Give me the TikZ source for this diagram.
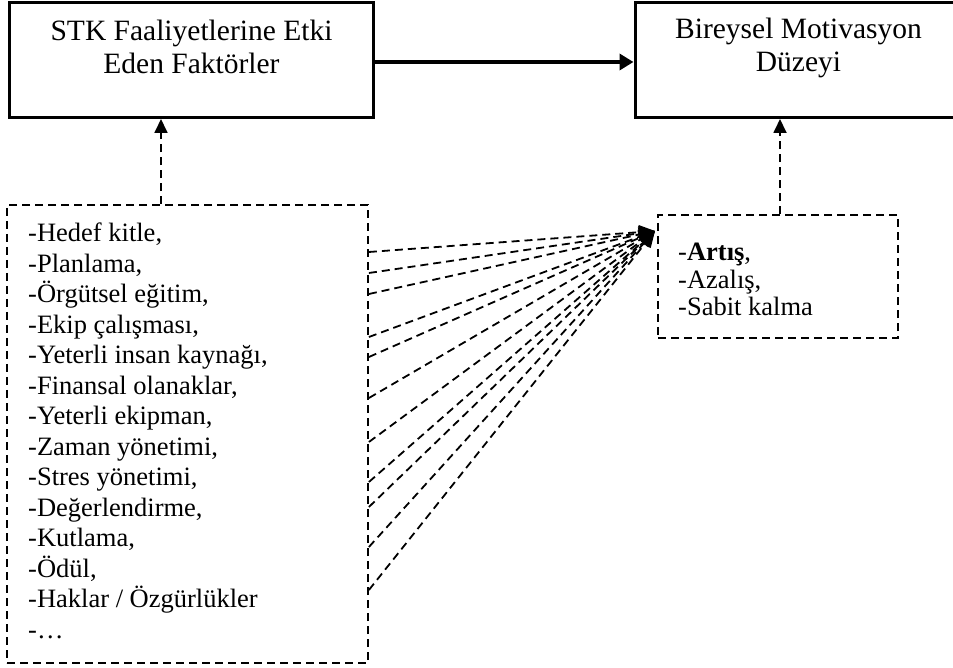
\documentclass[tikz,border=0pt]{standalone}
\usepackage{fontspec}
\setmainfont{Liberation Serif}
\usetikzlibrary{arrows.meta,positioning}

\tikzset{
  mainbox/.style={draw, rectangle, line width=3pt, inner sep=0pt},
  dashbox/.style={draw, rectangle, line width=1.8pt, dash pattern=on 8pt off 5pt, inner sep=0pt},
  toptext/.style={align=center, inner sep=0pt, font=\fontsize{29.5}{33}\selectfont},
  listtext/.style={align=left, inner sep=0pt, font=\fontsize{26.5}{30.5}\selectfont},
  mainarrow/.style={line width=4pt, -{Triangle[length=14pt,width=16pt]}},
  dasharrow/.style={line width=1.8pt, dash pattern=on 8pt off 5pt, -{Triangle[length=14pt,width=13pt]}},
  fanarrow/.style={dasharrow, -{Triangle[length=16pt,width=14pt]}}
}

\begin{document}
\begin{tikzpicture}[x=1pt, y=-1pt]
  \useasboundingbox (0,0) rectangle (953,668);

  % top boxes
  \node[mainbox, minimum width=364pt, minimum height=115pt] (stk) at (191.5,60) {};
  \node[mainbox, minimum width=327pt, minimum height=115pt] (motiv) at (798.5,60) {};
  \node[toptext, anchor=north] (stktext) at ([yshift=-19pt]stk.north)
    {STK Faaliyetlerine Etki\\Eden Faktörler};
  \node[toptext, anchor=north] (motivtext) at ([yshift=-17pt]motiv.north)
    {Bireysel Motivasyon\\Düzeyi};

  % lower boxes
  \node[dashbox, minimum width=361pt, minimum height=458pt] (list) at (187.5,434) {};
  \node[listtext, anchor=north west] (listtext) at (28,223)
    {-Hedef kitle,\\-Planlama,\\-Örgütsel eğitim,\\-Ekip çalışması,\\-Yeterli insan kaynağı,\\
     -Finansal olanaklar,\\-Yeterli ekipman,\\-Zaman yönetimi,\\-Stres yönetimi,\\
     -Değerlendirme,\\-Kutlama,\\-Ödül,\\-Haklar / Özgürlükler\\-…};
  \node[dashbox, minimum width=240pt, minimum height=123pt] (res) at (778,276.5) {};
  \node[listtext, anchor=north west, font=\fontsize{26.5}{27.5}\selectfont] (restext) at (678,243)
    {-\textbf{Artış},\\-Azalış,\\-Sabit kalma};

  % connectors
  \draw[mainarrow] (stk.east |- 0,62) -- (motiv.west |- 0,62);
  \draw[dasharrow] ([xshift=-26.5pt]list.north) -- ([xshift=-26.5pt]list.north |- stk.south);
  \draw[dasharrow] ([xshift=2pt]res.north) -- ([xshift=2pt]res.north |- motiv.south);

  \coordinate (hub) at (655,231);
  \foreach \y in {252,273,294,337,357,398,442,482,507,547,590}
    \draw[fanarrow] (list.east |- 0,\y) -- (hub);
\end{tikzpicture}
\end{document}
